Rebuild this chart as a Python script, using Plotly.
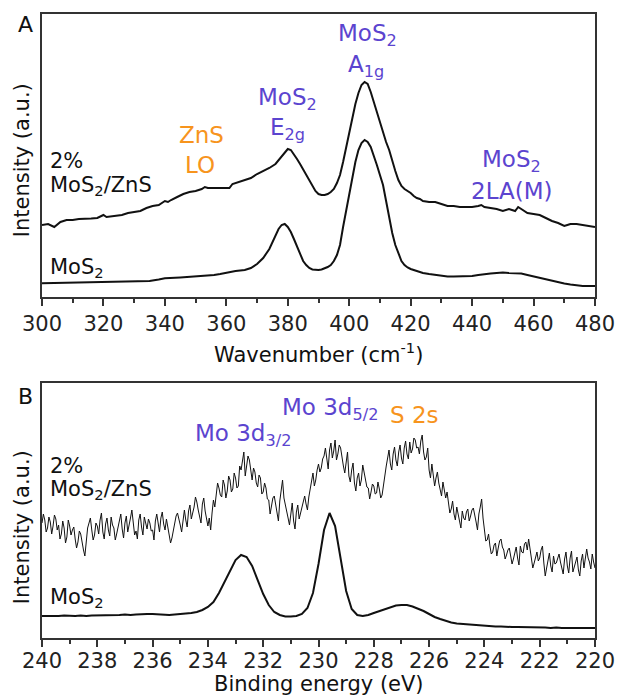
import plotly.graph_objects as go

# ---------------- Data ----------------
# Panel A: Raman, intensity in arbitrary units
raman_zns_wn = [300, 302, 304, 306, 308, 310, 312, 314, 316, 318, 320, 321, 322, 324, 326, 328, 330, 332, 334, 336,
                338, 340, 341, 342, 344, 346, 348, 350, 352, 353, 354, 356, 358, 360, 361, 362, 364, 366, 368, 370,
                372, 374, 376, 378, 379, 380, 381, 382, 383, 384, 386, 388, 389, 390, 391, 392, 393, 394, 395, 396,
                397, 398, 399, 400, 401, 402, 403, 404, 405, 406, 407, 408, 409, 410, 411, 412, 413, 414, 415, 416,
                417, 418, 419, 420, 421, 422, 423, 424, 426, 428, 430, 432, 434, 436, 438, 440, 442, 443, 444, 446,
                448, 450, 452, 454, 455, 456, 458, 460, 462, 464, 466, 468, 470, 471, 472, 474, 476, 478, 480]
raman_zns_int = [72, 73, 70, 75, 77, 77, 78, 78, 78.5, 79, 82, 80, 80.5, 81, 82, 84, 85, 86, 89, 91,
                 92, 96, 95, 97, 100, 103, 105, 106, 108, 110, 109, 109, 108.5, 108.5, 109, 113, 115, 117, 119, 123,
                 126, 129, 133, 140, 144, 148, 147, 143, 138, 133, 122, 111, 106, 103, 102, 102, 103, 105, 108, 114,
                 122, 135, 150, 165, 180, 193, 204, 212, 215, 213, 205, 195, 185, 175, 164, 155, 147, 136, 126, 117,
                 111, 108, 106, 104, 101, 99, 98, 96, 95, 95, 93, 91, 91, 90, 90, 90, 91, 92, 90, 89,
                 88, 86, 88, 86, 90, 88, 84, 83, 82, 79, 76, 74, 71, 72, 73, 73, 72, 71, 70]

raman_mos2_wn = [300, 305, 310, 315, 320, 325, 330, 335, 338, 340, 345, 350, 353, 356, 358, 361, 363, 366, 368, 370,
                 372, 374, 376, 377, 378, 379, 380, 381, 382, 383, 384, 385, 386, 387, 388, 389, 390, 391, 392, 393,
                 394, 395, 396, 397, 398, 399, 400, 401, 402, 403, 404, 405, 406, 407, 408, 409, 410, 411, 412, 413,
                 414, 415, 416, 417, 418, 419, 420, 421, 422, 424, 426, 428, 430, 432, 434, 436, 438, 440, 442, 444,
                 446, 448, 450, 452, 454, 456, 458, 460, 462, 464, 466, 468, 470, 472, 474, 476, 478, 480]
raman_mos2_int = [13.7, 14, 14.5, 15, 15.5, 15.3, 16, 16, 17.5, 18.7, 19.5, 20.3, 21, 22, 23, 25, 26, 27, 29, 33,
                  39, 48, 62, 68, 72, 73, 70, 65, 58, 50, 42, 36, 32, 29, 27.5, 27, 27, 27.5, 28.5, 30,
                  32, 36, 42, 52, 70, 86, 105, 120, 135, 147, 154, 157, 155, 150, 142, 132, 122, 112, 96, 80,
                  64, 52, 43, 36, 32, 29.5, 28, 27, 26, 24, 23, 22, 21, 20.5, 20.5, 20.5, 21, 21, 22, 23,
                  23.5, 24, 24.5, 24, 24, 23.5, 22, 20.5, 19.5, 17.5, 16, 15, 13.5, 12.5, 11.5, 11, 11, 11]

# Panel B: XPS, intensity in arbitrary units (noisy 2% MoS2/ZnS spectrum, 240 -> 220 eV)
xps_zns_int = [
    115, 124, 118, 106, 110, 121, 116, 104, 112, 123, 119, 108, 113, 99, 104, 117, 110, 95, 101, 118,
    112, 103, 108, 111, 99, 90, 96, 107, 104, 94, 88, 82, 100, 110, 115, 120, 108, 98, 103, 115,
    112, 104, 118, 125, 106, 99, 114, 120, 108, 102, 121, 113, 110, 98, 104, 111, 117, 124, 109, 100,
    115, 122, 106, 112, 120, 128, 113, 103, 107, 99, 118, 124, 111, 103, 121, 114, 109, 119, 115, 107,
    108, 98, 117, 124, 112, 106, 120, 126, 114, 108, 119, 112, 105, 95, 100, 109, 116, 122, 125, 117,
    113, 106, 120, 128, 118, 111, 127, 133, 119, 125, 131, 141, 136, 128, 122, 115, 134, 140, 127, 119,
    112, 120, 108, 125, 138, 131, 144, 155, 150, 143, 141, 158, 153, 140, 147, 162, 158, 146, 149, 165,
    160, 150, 152, 172, 168, 180, 186, 162, 170, 182, 178, 165, 158, 170, 166, 155, 151, 163, 160, 144,
    146, 155, 150, 139, 138, 124, 131, 140, 142, 133, 128, 117, 137, 149, 158, 140, 132, 124, 120, 113,
    128, 135, 117, 109, 126, 133, 119, 125, 130, 138, 142, 134, 128, 141, 150, 160, 165, 152, 158, 168,
    174, 166, 170, 179, 182, 190, 176, 169, 188, 195, 180, 187, 198, 178, 184, 193, 190, 178, 172, 165,
    178, 186, 162, 156, 168, 175, 155, 147, 160, 165, 152, 158, 173, 166, 158, 151, 150, 139, 146, 154,
    152, 144, 145, 156, 149, 140, 143, 154, 165, 172, 180, 188, 174, 168, 184, 191, 178, 172, 186, 193,
    180, 174, 190, 197, 184, 179, 196, 185, 189, 200, 198, 190, 191, 184, 197, 203, 186, 178, 181, 190,
    168, 160, 174, 163, 152, 160, 166, 155, 148, 142, 156, 149, 140, 146, 134, 125, 129, 137, 124, 118,
    131, 123, 116, 110, 127, 120, 118, 126, 129, 117, 122, 128, 130, 121, 116, 108, 124, 131, 139, 120,
    106, 97, 98, 104, 92, 84, 86, 93, 95, 82, 90, 97, 99, 91, 88, 79, 83, 88, 90, 81,
    74, 79, 84, 91, 80, 73, 92, 86, 85, 94, 96, 88, 99, 90, 81, 70, 75, 82, 86, 77,
    80, 88, 92, 75, 62, 70, 78, 85, 72, 66, 82, 74, 75, 81, 84, 76, 70, 64, 79, 86,
    72, 65, 80, 87, 66, 71, 74, 81, 68, 62, 77, 84, 70, 79, 89, 80, 76, 69, 84, 76,
    70]
xps_zns_be = [240 - 20 * i / (len(xps_zns_int) - 1) for i in range(len(xps_zns_int))]

xps_mos2_int = [22, 22, 21.5, 22, 22.5, 22, 22, 22.5, 22, 22.5, 22.5, 23, 22.5, 23, 23, 23.5, 23, 23.5, 24, 24,
                24, 23.5, 23.5, 23, 23.5, 24, 24, 25, 26, 28, 31, 36, 45, 56, 68, 78, 83, 81, 72, 58,
                44, 33, 26, 23, 21.5, 21.5, 22, 24, 30, 45, 74, 108, 125, 112, 80, 47, 29, 23, 22, 23,
                25, 27, 29, 31, 32.5, 33, 33, 31.5, 29.5, 27, 24, 21, 19, 17, 15.5, 14.5, 14, 13.5, 13, 12.5,
                12, 12, 11.5, 11.5, 11, 11, 11, 11, 10.5, 10.5, 10.5, 10.5, 10, 10.5, 10, 10, 10, 10, 10, 10, 10]
xps_mos2_be = [240 - 20 * i / (len(xps_mos2_int) - 1) for i in range(len(xps_mos2_int))]

raman_ticks = [300, 320, 340, 360, 380, 400, 420, 440, 460, 480]
xps_ticks = [240, 238, 236, 234, 232, 230, 228, 226, 224, 222, 220]

# ---------------- Styling / layout ----------------
W, H = 627, 696
L, R, T, B = 42, 26, 14, 58
PW, PH = W - L - R, H - T - B
FONT = "DejaVu Sans"
PURPLE = "#5B44CF"
ORANGE = "#F7941D"
AXC = "#333333"


def px(x):
    return (x - L) / PW


def py(y):
    return (H - B - y) / PH


fig = go.Figure()
fig.add_trace(go.Scatter(x=raman_zns_wn, y=raman_zns_int, mode="lines",
                         line=dict(color="#111", width=2), xaxis="x", yaxis="y", showlegend=False))
fig.add_trace(go.Scatter(x=raman_mos2_wn, y=raman_mos2_int, mode="lines",
                         line=dict(color="#111", width=2), xaxis="x", yaxis="y", showlegend=False))
fig.add_trace(go.Scatter(x=xps_zns_be, y=xps_zns_int, mode="lines",
                         line=dict(color="#111", width=1), xaxis="x2", yaxis="y2", showlegend=False))
fig.add_trace(go.Scatter(x=xps_mos2_be, y=xps_mos2_int, mode="lines",
                         line=dict(color="#111", width=2), xaxis="x2", yaxis="y2", showlegend=False))

xcommon = dict(showline=True, linecolor=AXC, linewidth=2, mirror=True, showgrid=False, zeroline=False,
               ticks="outside", ticklen=7, tickwidth=2, tickcolor=AXC,
               tickfont=dict(family=FONT, size=21, color="#222"),
               minor=dict(ticks="outside", ticklen=4, tickwidth=1.5, tickcolor=AXC))
ycommon = dict(showline=True, linecolor=AXC, linewidth=2, mirror=True, showgrid=False, zeroline=False,
               showticklabels=False, ticks="")

top_dom = [py(297), 1.0]
bot_dom = [0.0, py(383)]

fig.update_layout(
    width=W, height=H, margin=dict(l=L, r=R, t=T, b=B),
    paper_bgcolor="white", plot_bgcolor="white",
    xaxis=dict(domain=[0, 1], anchor="y", range=[300, 480], tickvals=raman_ticks,
               minor_dtick=10, **xcommon),
    yaxis=dict(domain=top_dom, anchor="x", range=[0, 283], **ycommon),
    xaxis2=dict(domain=[0, 1], anchor="y2", range=[240, 220], tickvals=xps_ticks,
                minor_dtick=1, ticklabelstandoff=-4, **xcommon),
    yaxis2=dict(domain=bot_dom, anchor="x2", range=[0, 255], **ycommon),
)


def ann(text, x, y, size=23, color="#111", xanchor="center", angle=0):
    fig.add_annotation(text=text, x=px(x), y=py(y), xref="paper", yref="paper",
                       xanchor=xanchor, yanchor="middle", showarrow=False, textangle=angle,
                       font=dict(family=FONT, size=size, color=color))


# panel letters
ann("A", 25, 24, size=22)
ann("B", 25, 396, size=22)
# panel A peak labels
ann("MoS<sub>2</sub>", 371, 35, color=PURPLE)
ann("A<sub>1g</sub>", 370, 66, color=PURPLE)
ann("MoS<sub>2</sub>", 290, 99, color=PURPLE)
ann("E<sub>2g</sub>", 290, 129, color=PURPLE)
ann("ZnS", 203, 135, color=ORANGE)
ann("LO", 202, 165, color=ORANGE)
ann("MoS<sub>2</sub>", 517, 161, color=PURPLE)
ann("2LA(M)", 517, 191, color=PURPLE)
# panel A sample labels
ann("2%", 48, 161, size=21, xanchor="left")
ann("MoS<sub>2</sub>/ZnS", 48, 186, size=21, xanchor="left")
ann("MoS<sub>2</sub>", 48, 268, size=21, xanchor="left")
# panel B peak labels
ann("Mo 3d<sub>3/2</sub>", 245, 435, color=PURPLE)
ann("Mo 3d<sub>5/2</sub>", 333, 409, color=PURPLE)
ann("S 2s", 419, 415, color=ORANGE)
# panel B sample labels
ann("2%", 48, 466, size=21, xanchor="left")
ann("MoS<sub>2</sub>/ZnS", 48, 490, size=21, xanchor="left")
ann("MoS<sub>2</sub>", 48, 598, size=21, xanchor="left")
# axis titles
ann("Wavenumber (cm<sup>-1</sup>)", 321.5, 353, size=21)
ann("Binding energy (eV)", 321.5, 684, size=21)
ann("Intensity (a.u.)", 22, 160, size=21, angle=-90)
ann("Intensity (a.u.)", 22, 527, size=21, angle=-90)

fig.write_html("out.html")
